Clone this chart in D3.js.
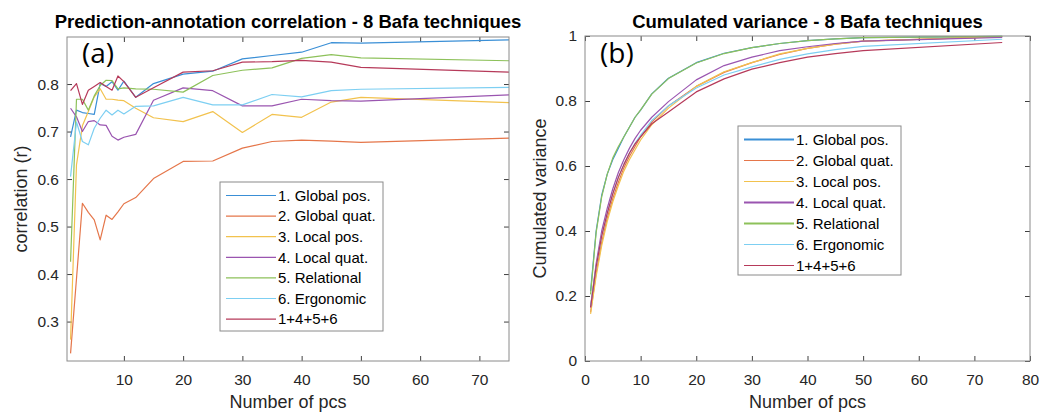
<!DOCTYPE html>
<html>
<head>
<meta charset="utf-8">
<script src="https://cdn.jsdelivr.net/npm/d3@7"></script>
<style>
  body { margin: 0; background: #fff; }
  text { font-family: "Liberation Sans", Arial, sans-serif; }
</style>
</head>
<body>
<div id="chart"></div>
<script>
// series names and colours (MATLAB default order, as they look in the picture)
const names = ['1. Global pos.', '2. Global quat.', '3. Local pos.', '4. Local quat.', '5. Relational', '6. Ergonomic', '1+4+5+6'];
const colors = ['#3a8fd6', '#e5764a', '#f2c24e', '#9a55b0', '#8dc15a', '#7dcff2', '#b63a5a'];

// number of pcs (same for both panels)
const pcs = [1, 2, 3, 4, 5, 6, 7, 8, 9, 10, 12, 15, 20, 25, 30, 35, 40, 45, 50, 75];

// (a) prediction-annotation correlation
const corrGlobalPos   = [0.689, 0.745, 0.740, 0.738, 0.736, 0.801, 0.795, 0.805, 0.787, 0.806, 0.772, 0.801, 0.821, 0.827, 0.853, 0.860, 0.867, 0.887, 0.886, 0.893];
const corrGlobalQuat  = [0.233, 0.390, 0.549, 0.530, 0.514, 0.472, 0.524, 0.515, 0.531, 0.548, 0.561, 0.601, 0.637, 0.638, 0.665, 0.679, 0.682, 0.680, 0.677, 0.686];
const corrLocalPos    = [0.262, 0.630, 0.712, 0.742, 0.773, 0.790, 0.768, 0.768, 0.766, 0.765, 0.749, 0.729, 0.721, 0.742, 0.698, 0.736, 0.730, 0.762, 0.772, 0.761];
const corrLocalQuat   = [0.749, 0.731, 0.700, 0.721, 0.723, 0.714, 0.713, 0.690, 0.682, 0.688, 0.694, 0.766, 0.792, 0.786, 0.754, 0.754, 0.768, 0.765, 0.764, 0.777];
const corrRelational  = [0.426, 0.768, 0.768, 0.745, 0.775, 0.797, 0.808, 0.807, 0.790, 0.792, 0.790, 0.789, 0.783, 0.818, 0.829, 0.834, 0.854, 0.862, 0.855, 0.849];
const corrErgonomic   = [0.605, 0.720, 0.679, 0.672, 0.707, 0.728, 0.745, 0.735, 0.745, 0.737, 0.753, 0.754, 0.772, 0.756, 0.756, 0.778, 0.773, 0.786, 0.789, 0.793];
const corrCombined    = [0.786, 0.801, 0.757, 0.787, 0.795, 0.803, 0.795, 0.787, 0.817, 0.805, 0.772, 0.792, 0.825, 0.828, 0.846, 0.847, 0.850, 0.846, 0.835, 0.825];

// (b) cumulated variance
const varGlobalPos    = [0.215, 0.400, 0.510, 0.575, 0.620, 0.655, 0.690, 0.720, 0.750, 0.772, 0.822, 0.870, 0.918, 0.947, 0.964, 0.977, 0.986, 0.991, 0.995, 0.999];
const varGlobalQuat   = [0.150, 0.270, 0.365, 0.440, 0.500, 0.550, 0.595, 0.630, 0.660, 0.690, 0.735, 0.785, 0.845, 0.888, 0.918, 0.943, 0.962, 0.975, 0.984, 0.998];
const varLocalPos     = [0.145, 0.260, 0.355, 0.430, 0.490, 0.540, 0.585, 0.620, 0.650, 0.680, 0.727, 0.778, 0.845, 0.890, 0.918, 0.945, 0.962, 0.975, 0.984, 0.998];
const varLocalQuat    = [0.165, 0.300, 0.400, 0.470, 0.530, 0.580, 0.620, 0.655, 0.685, 0.710, 0.750, 0.798, 0.865, 0.909, 0.935, 0.955, 0.967, 0.977, 0.984, 0.996];
const varRelational   = [0.205, 0.395, 0.505, 0.575, 0.625, 0.660, 0.690, 0.720, 0.750, 0.773, 0.821, 0.869, 0.917, 0.946, 0.964, 0.977, 0.986, 0.991, 0.995, 0.999];
const varErgonomic    = [0.170, 0.290, 0.385, 0.455, 0.515, 0.565, 0.605, 0.640, 0.670, 0.695, 0.740, 0.785, 0.840, 0.880, 0.905, 0.928, 0.945, 0.958, 0.968, 0.990];
const varCombined     = [0.165, 0.290, 0.385, 0.455, 0.515, 0.565, 0.605, 0.640, 0.668, 0.690, 0.730, 0.766, 0.828, 0.868, 0.898, 0.918, 0.935, 0.946, 0.955, 0.980];

const corrSeries = [corrGlobalPos, corrGlobalQuat, corrLocalPos, corrLocalQuat, corrRelational, corrErgonomic, corrCombined];
const varSeries = [varGlobalPos, varGlobalQuat, varLocalPos, varLocalQuat, varRelational, varErgonomic, varCombined];

const svg = d3.select('#chart').append('svg')
    .attr('width', 1043)
    .attr('height', 412);

function drawPanel(opt) {
    const x = d3.scaleLinear().domain(opt.xDomain).range([opt.left, opt.right]);
    const y = d3.scaleLinear().domain(opt.yDomain).range([opt.bottom, opt.top]);
    const g = svg.append('g');

    // axes with inward ticks, MATLAB style
    const xa = g.append('g').attr('transform', 'translate(0,' + opt.bottom + ')')
        .call(d3.axisBottom(x).tickValues(opt.xTicks).tickSizeInner(-5).tickSizeOuter(0).tickPadding(13).tickFormat(d3.format('d')));
    const xt = g.append('g').attr('transform', 'translate(0,' + opt.top + ')')
        .call(d3.axisTop(x).tickValues(opt.xTicks).tickSizeInner(-5).tickSizeOuter(0).tickFormat(''));
    const ya = g.append('g').attr('transform', 'translate(' + opt.left + ',0)')
        .call(d3.axisLeft(y).tickValues(opt.yTicks).tickSizeInner(-5).tickSizeOuter(0).tickPadding(8).tickFormat(d => d3.format('~g')(d)));
    const yr = g.append('g').attr('transform', 'translate(' + opt.right + ',0)')
        .call(d3.axisRight(y).tickValues(opt.yTicks).tickSizeInner(-5).tickSizeOuter(0).tickFormat(''));
    [xa, xt, ya, yr].forEach(a => {
        a.select('.domain').remove();
        a.selectAll('line').attr('stroke', '#404040');
        a.selectAll('text').attr('fill', '#262626').style('font-size', '15.5px')
            .style('font-family', '"Liberation Sans", Arial, sans-serif');
    });

    // lines
    const line = d3.line().x((d, i) => x(pcs[i])).y(d => y(d));
    g.append('g').selectAll('path')
        .data(opt.series)
        .enter().append('path')
        .attr('d', line)
        .attr('fill', 'none')
        .attr('stroke', (d, i) => colors[i])
        .attr('stroke-width', 1.2)
        .attr('stroke-linejoin', 'round');

    // box
    g.append('rect')
        .attr('x', opt.left).attr('y', opt.top)
        .attr('width', opt.right - opt.left).attr('height', opt.bottom - opt.top)
        .attr('fill', 'none').attr('stroke', '#8a8a8a').attr('stroke-width', 1);

    // title and labels
    g.append('text')
        .attr('x', (opt.left + opt.right) / 2).attr('y', 28)
        .attr('text-anchor', 'middle')
        .style('font-size', '18.5px').style('font-weight', 'bold')
        .text(opt.title);
    g.append('text')
        .attr('x', (opt.left + opt.right) / 2).attr('y', 408)
        .attr('text-anchor', 'middle')
        .attr('fill', '#262626')
        .style('font-size', '18px')
        .text('Number of pcs');
    g.append('text')
        .attr('transform', 'translate(' + opt.yLabelX + ',' + (opt.top + opt.bottom) / 2 + ') rotate(-90)')
        .attr('text-anchor', 'middle')
        .attr('fill', '#262626')
        .style('font-size', '18px')
        .text(opt.yLabel);
    g.append('text')
        .attr('x', opt.left + 15).attr('y', 63)
        .style('font-family', '"Open Sans", sans-serif')
        .style('font-size', '28px')
        .text(opt.tag);

    // legend
    const lg = g.append('g').attr('transform', 'translate(' + opt.legendX + ',' + opt.legendY + ')');
    lg.append('rect')
        .attr('width', 163).attr('height', 149)
        .attr('fill', '#fff').attr('stroke', '#8a8a8a');
    const rows = lg.selectAll('g.row')
        .data(names)
        .enter().append('g')
        .attr('transform', (d, i) => 'translate(0,' + (13.5 + i * opt.legendStep) + ')');
    rows.append('line')
        .attr('x1', 6).attr('x2', 56)
        .attr('stroke', (d, i) => colors[i])
        .attr('stroke-width', (d, i) => opt.thick.includes(i) ? 2 : 1.2);
    rows.append('text')
        .attr('x', 58).attr('dy', '0.35em')
        .attr('fill', '#000')
        .style('font-size', '15px')
        .text(d => d);
}

drawPanel({
    left: 67, right: 509, top: 37, bottom: 361,
    xDomain: [0.4, 75], yDomain: [0.217, 0.899],
    xTicks: [10, 20, 30, 40, 50, 60, 70], yTicks: [0.3, 0.4, 0.5, 0.6, 0.7, 0.8],
    series: corrSeries,
    title: 'Prediction-annotation correlation - 8 Bafa techniques',
    yLabel: 'correlation (r)', yLabelX: 27, tag: '(a)',
    legendX: 220, legendY: 182, legendStep: 20.6, thick: []
});

drawPanel({
    left: 585, right: 1030, top: 36, bottom: 361,
    xDomain: [0, 80], yDomain: [0, 1],
    xTicks: [0, 10, 20, 30, 40, 50, 60, 70, 80], yTicks: [0, 0.2, 0.4, 0.6, 0.8, 1],
    series: varSeries,
    title: 'Cumulated variance - 8 Bafa techniques',
    yLabel: 'Cumulated variance', yLabelX: 546, tag: '(b)',
    legendX: 738, legendY: 126, legendStep: 21, thick: [0, 3, 4]
});
</script>
</body>
</html>
